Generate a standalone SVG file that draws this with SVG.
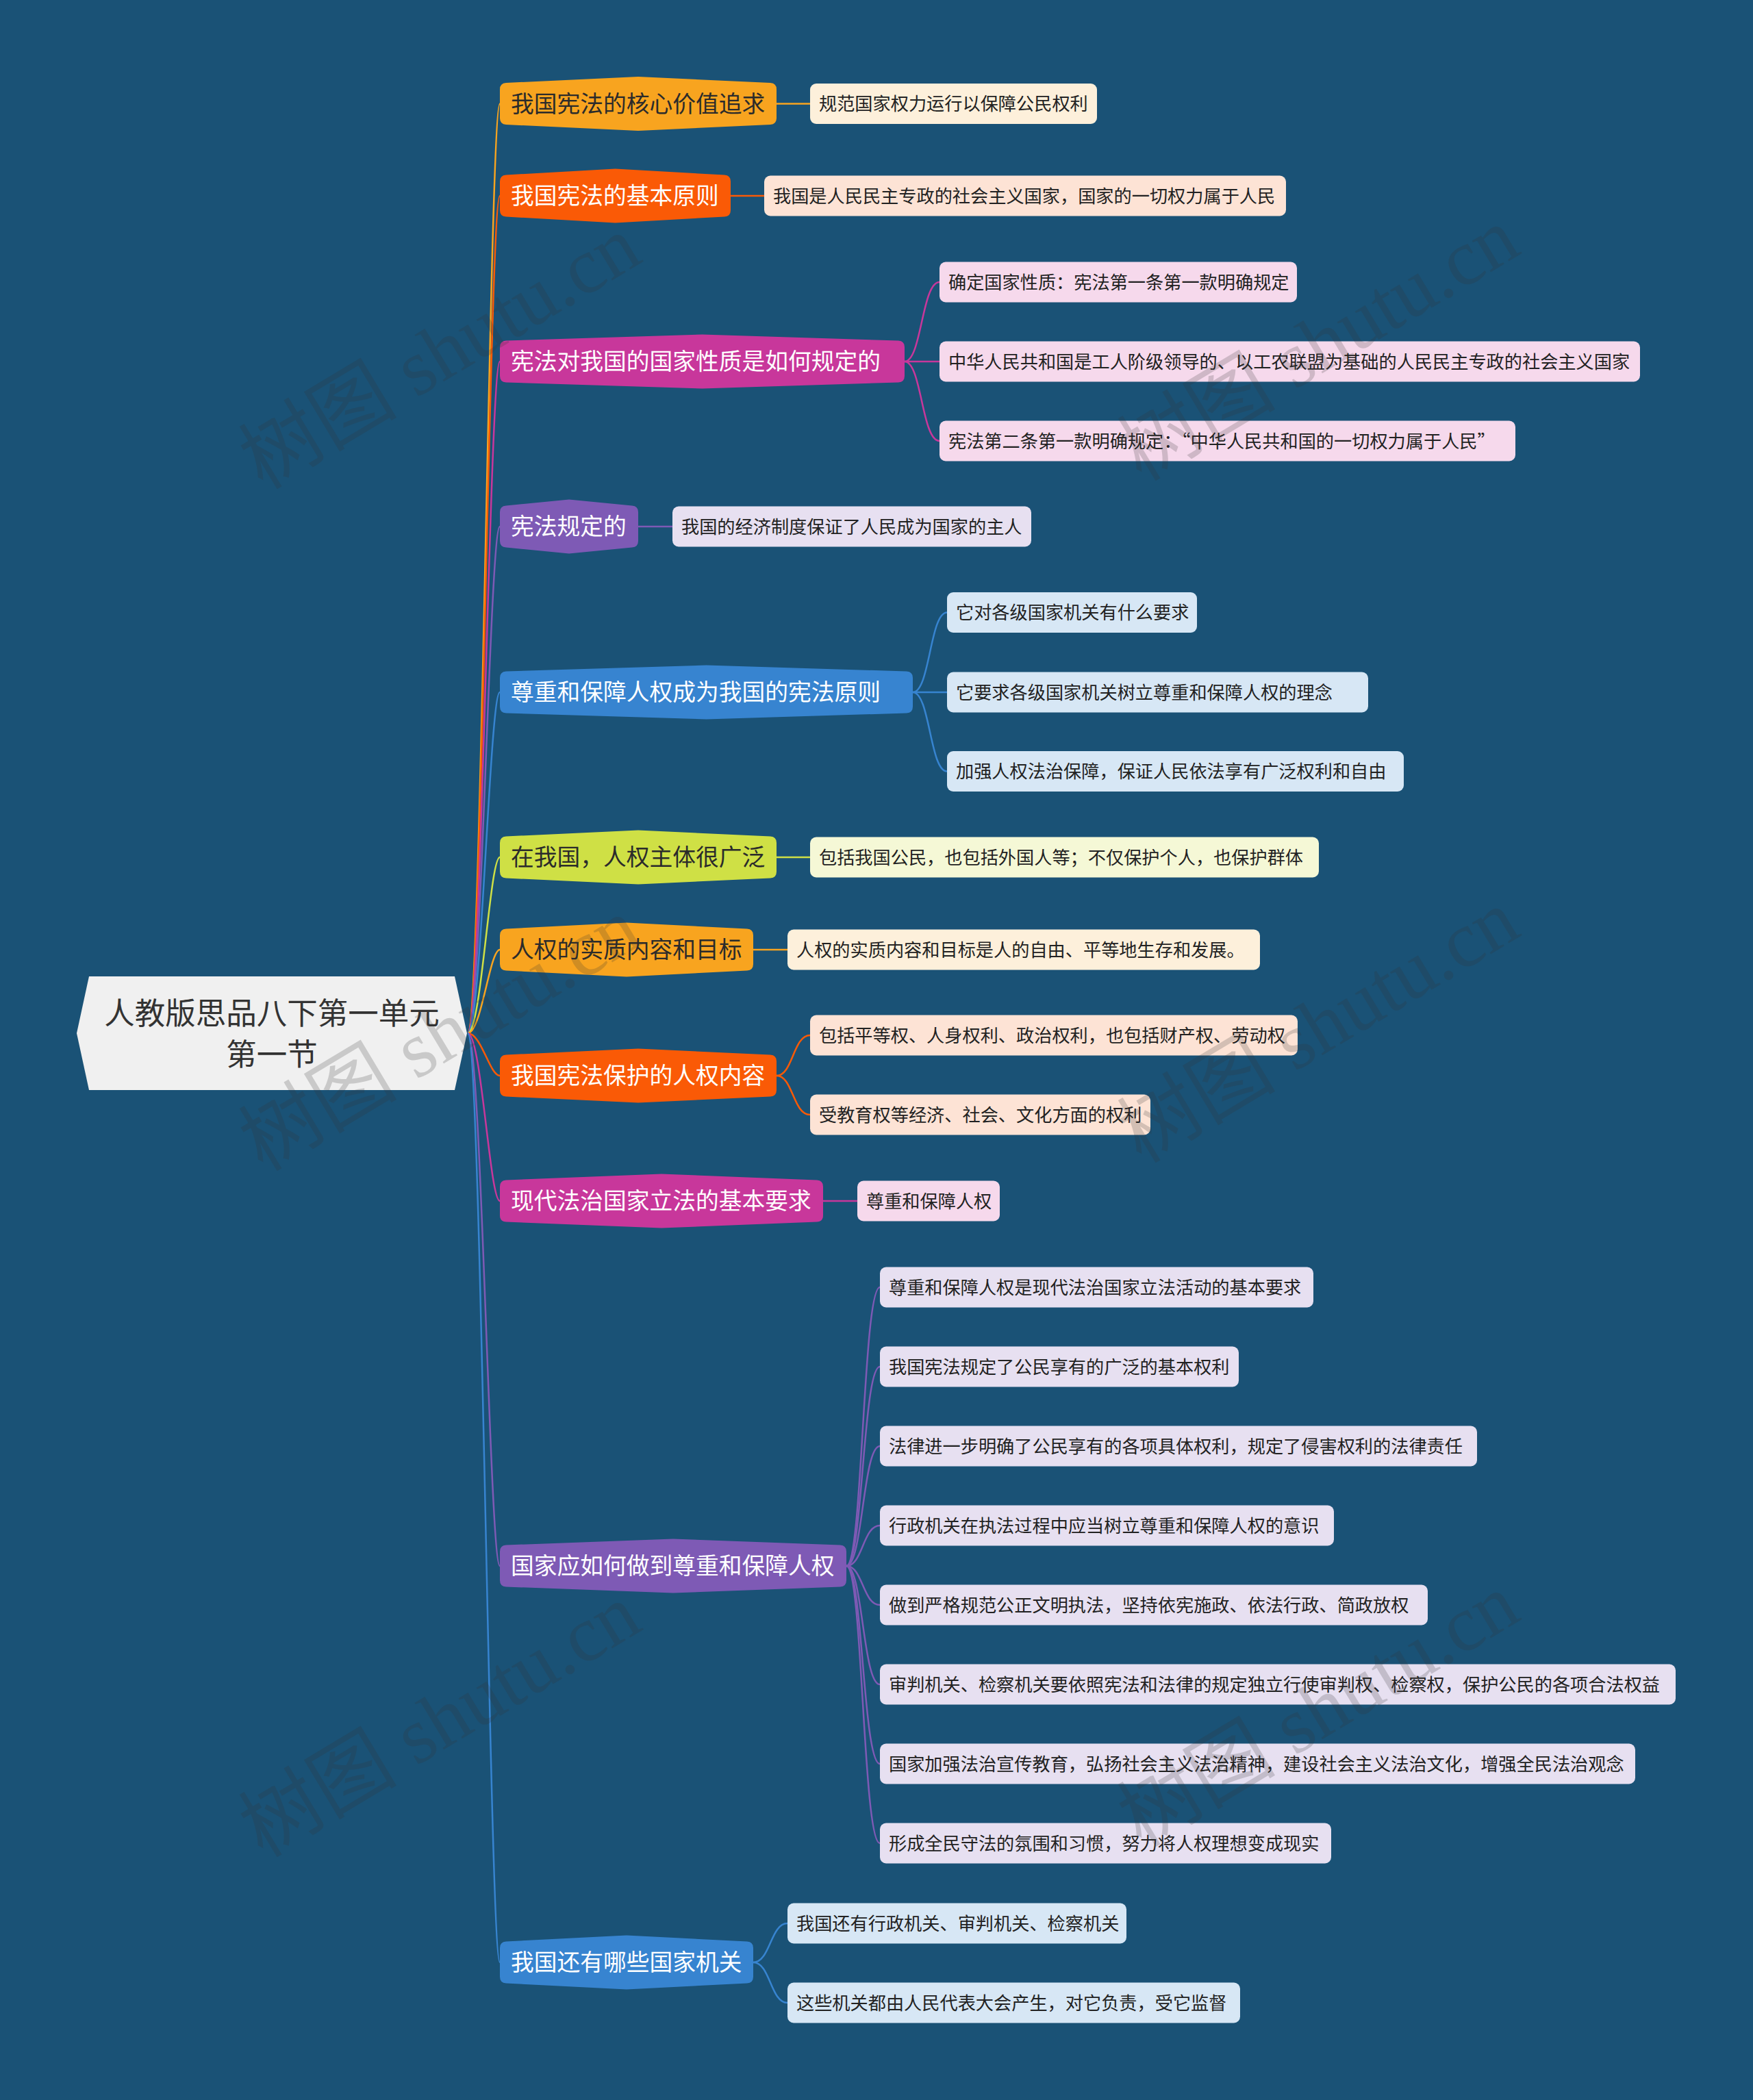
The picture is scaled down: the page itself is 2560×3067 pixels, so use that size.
<svg xmlns="http://www.w3.org/2000/svg" width="2560" height="3067" viewBox="0 0 2560 3067">
<style>
.bg{fill:#1a5276}
.t{font-family:"Noto Sans CJK SC","Noto Sans",sans-serif}
.mt{font-size:33.75px}
.ct{font-size:26.2px;fill:#222}
.light{fill:#ffffff}
.dark{fill:#2b2b2b}
.cn{fill:none;stroke-width:2.5}
.wm{font-family:"Liberation Serif","Noto Sans CJK SC",serif;font-size:116px;fill:#333;opacity:0.2}
.c1{stroke:#f8a41f}.c2{stroke:#fa5a06}.c3{stroke:#c8379b}.c4{stroke:#7e5ab5}.c5{stroke:#3784d0}.c6{stroke:#cfe045}
</style>
<rect class="bg" x="0" y="0" width="2560" height="3067"/>

<g id="connectors">
  <path class="cn c1" d="M683,1509 C703,1509 715,151.5 730,151.5"/>
  <path class="cn c2" d="M683,1509 C703,1509 715,286 730,286"/>
  <path class="cn c3" d="M683,1509 C703,1509 715,528 730,528"/>
  <path class="cn c4" d="M683,1509 C703,1509 715,769 730,769"/>
  <path class="cn c5" d="M683,1509 C703,1509 715,1011 730,1011"/>
  <path class="cn c6" d="M683,1509 C703,1509 715,1252 730,1252"/>
  <path class="cn c1" d="M683,1509 C703,1509 715,1387 730,1387"/>
  <path class="cn c2" d="M683,1509 C703,1509 715,1571 730,1571"/>
  <path class="cn c3" d="M683,1509 C703,1509 715,1754 730,1754"/>
  <path class="cn c4" d="M683,1509 C703,1509 715,2287 730,2287"/>
  <path class="cn c5" d="M683,1509 C703,1509 715,2866 730,2866"/>
  <path class="cn c1" d="M1134,151.5 L1183,151.5"/>
  <path class="cn c2" d="M1067,286 L1116,286"/>
  <path class="cn c3" d="M1321,528 C1346,528 1346,412 1372,412"/>
  <path class="cn c3" d="M1321,528 L1372,528"/>
  <path class="cn c3" d="M1321,528 C1346,528 1346,644 1372,644"/>
  <path class="cn c4" d="M932,769 L982,769"/>
  <path class="cn c5" d="M1333,1011 C1358,1011 1358,894.5 1383,894.5"/>
  <path class="cn c5" d="M1333,1011 L1383,1011"/>
  <path class="cn c5" d="M1333,1011 C1358,1011 1358,1126.5 1383,1126.5"/>
  <path class="cn c6" d="M1134,1252 L1183,1252"/>
  <path class="cn c1" d="M1100,1387 L1150,1387"/>
  <path class="cn c2" d="M1134,1571 C1158,1571 1158,1512 1183,1512"/>
  <path class="cn c2" d="M1134,1571 C1158,1571 1158,1628 1183,1628"/>
  <path class="cn c3" d="M1202,1754 L1252,1754"/>
  <path class="cn c4" d="M1236,2287 C1260,2287 1260,1880 1285,1880"/>
  <path class="cn c4" d="M1236,2287 C1260,2287 1260,1996 1285,1996"/>
  <path class="cn c4" d="M1236,2287 C1260,2287 1260,2112 1285,2112"/>
  <path class="cn c4" d="M1236,2287 C1260,2287 1260,2228 1285,2228"/>
  <path class="cn c4" d="M1236,2287 C1260,2287 1260,2344 1285,2344"/>
  <path class="cn c4" d="M1236,2287 C1260,2287 1260,2460 1285,2460"/>
  <path class="cn c4" d="M1236,2287 C1260,2287 1260,2576 1285,2576"/>
  <path class="cn c4" d="M1236,2287 C1260,2287 1260,2692 1285,2692"/>
  <path class="cn c5" d="M1100,2866 C1125,2866 1125,2809 1150,2809"/>
  <path class="cn c5" d="M1100,2866 C1125,2866 1125,2925 1150,2925"/>
</g>

<g id="root">
  <polygon points="130,1426 664,1426 682,1509 664,1592 130,1592 112,1509" fill="#f0f0f0"/>
  <text class="t" x="397" y="1496" font-size="44.5" fill="#333" text-anchor="middle">人教版思品八下第一单元</text>
  <text class="t" x="397" y="1556" font-size="44.5" fill="#333" text-anchor="middle">第一节</text>
</g>

<g id="n1" transform="translate(730,151.5)">
  <path d="M0,-21 Q0,-30 9,-30.5 L202,-39.5 L395,-30.5 Q404,-30 404,-21 L404,21 Q404,30 395,30.5 L202,39.5 L9,30.5 Q0,30 0,21 Z" fill="#f8a41f"/>
  <text class="t mt dark" x="16" y="12">我国宪法的核心价值追求</text>
</g>
<g id="n2" transform="translate(730,286)">
  <path d="M0,-21 Q0,-30 9,-30.5 L168.5,-39.5 L328,-30.5 Q337,-30 337,-21 L337,21 Q337,30 328,30.5 L168.5,39.5 L9,30.5 Q0,30 0,21 Z" fill="#fa5a06"/>
  <text class="t mt light" x="16" y="12">我国宪法的基本原则</text>
</g>
<g id="n3" transform="translate(730,528)">
  <path d="M0,-21 Q0,-30 9,-30.5 L295.5,-39.5 L582,-30.5 Q591,-30 591,-21 L591,21 Q591,30 582,30.5 L295.5,39.5 L9,30.5 Q0,30 0,21 Z" fill="#c8379b"/>
  <text class="t mt light" x="16" y="12">宪法对我国的国家性质是如何规定的</text>
</g>
<g id="n4" transform="translate(730,769)">
  <path d="M0,-21 Q0,-30 9,-30.5 L101,-39.5 L193,-30.5 Q202,-30 202,-21 L202,21 Q202,30 193,30.5 L101,39.5 L9,30.5 Q0,30 0,21 Z" fill="#7e5ab5"/>
  <text class="t mt light" x="16" y="12">宪法规定的</text>
</g>
<g id="n5" transform="translate(730,1011)">
  <path d="M0,-21 Q0,-30 9,-30.5 L301.5,-39.5 L594,-30.5 Q603,-30 603,-21 L603,21 Q603,30 594,30.5 L301.5,39.5 L9,30.5 Q0,30 0,21 Z" fill="#3784d0"/>
  <text class="t mt light" x="16" y="12">尊重和保障人权成为我国的宪法原则</text>
</g>
<g id="n6" transform="translate(730,1252)">
  <path d="M0,-21 Q0,-30 9,-30.5 L202,-39.5 L395,-30.5 Q404,-30 404,-21 L404,21 Q404,30 395,30.5 L202,39.5 L9,30.5 Q0,30 0,21 Z" fill="#cfe045"/>
  <text class="t mt dark" x="16" y="12">在我国，人权主体很广泛</text>
</g>
<g id="n7" transform="translate(730,1387)">
  <path d="M0,-21 Q0,-30 9,-30.5 L185,-39.5 L361,-30.5 Q370,-30 370,-21 L370,21 Q370,30 361,30.5 L185,39.5 L9,30.5 Q0,30 0,21 Z" fill="#f8a41f"/>
  <text class="t mt dark" x="16" y="12">人权的实质内容和目标</text>
</g>
<g id="n8" transform="translate(730,1571)">
  <path d="M0,-21 Q0,-30 9,-30.5 L202,-39.5 L395,-30.5 Q404,-30 404,-21 L404,21 Q404,30 395,30.5 L202,39.5 L9,30.5 Q0,30 0,21 Z" fill="#fa5a06"/>
  <text class="t mt light" x="16" y="12">我国宪法保护的人权内容</text>
</g>
<g id="n9" transform="translate(730,1754)">
  <path d="M0,-21 Q0,-30 9,-30.5 L236,-39.5 L463,-30.5 Q472,-30 472,-21 L472,21 Q472,30 463,30.5 L236,39.5 L9,30.5 Q0,30 0,21 Z" fill="#c8379b"/>
  <text class="t mt light" x="16" y="12">现代法治国家立法的基本要求</text>
</g>
<g id="n10" transform="translate(730,2287)">
  <path d="M0,-21 Q0,-30 9,-30.5 L253,-39.5 L497,-30.5 Q506,-30 506,-21 L506,21 Q506,30 497,30.5 L253,39.5 L9,30.5 Q0,30 0,21 Z" fill="#7e5ab5"/>
  <text class="t mt light" x="16" y="12">国家应如何做到尊重和保障人权</text>
</g>
<g id="n11" transform="translate(730,2866)">
  <path d="M0,-21 Q0,-30 9,-30.5 L185,-39.5 L361,-30.5 Q370,-30 370,-21 L370,21 Q370,30 361,30.5 L185,39.5 L9,30.5 Q0,30 0,21 Z" fill="#3784d0"/>
  <text class="t mt light" x="16" y="12">我国还有哪些国家机关</text>
</g>

<g id="n1c1"><rect x="1183" y="122" width="419" height="59" rx="9" fill="#fdf0db"/><text class="t ct" x="1196" y="161">规范国家权力运行以保障公民权利</text></g>
<g id="n2c1"><rect x="1116" y="256.5" width="762" height="59" rx="9" fill="#fde3d5"/><text class="t ct" x="1129" y="295.5">我国是人民民主专政的社会主义国家，国家的一切权力属于人民</text></g>
<g id="n3c1"><rect x="1372" y="382.5" width="522" height="59" rx="9" fill="#f6d9ec"/><text class="t ct" x="1385" y="421.5">确定国家性质：宪法第一条第一款明确规定</text></g>
<g id="n3c2"><rect x="1372" y="498.5" width="1023" height="59" rx="9" fill="#f6d9ec"/><text class="t ct" x="1385" y="537.5">中华人民共和国是工人阶级领导的、以工农联盟为基础的人民民主专政的社会主义国家</text></g>
<g id="n3c3"><rect x="1372" y="614.5" width="841" height="59" rx="9" fill="#f6d9ec"/><text class="t ct" x="1385" y="653.5">宪法第二条第一款明确规定：“中华人民共和国的一切权力属于人民”</text></g>
<g id="n4c1"><rect x="982" y="739.5" width="524" height="59" rx="9" fill="#e7e0f1"/><text class="t ct" x="995" y="778.5">我国的经济制度保证了人民成为国家的主人</text></g>
<g id="n5c1"><rect x="1383" y="865" width="365" height="59" rx="9" fill="#d7e7f5"/><text class="t ct" x="1396" y="904">它对各级国家机关有什么要求</text></g>
<g id="n5c2"><rect x="1383" y="981.5" width="615" height="59" rx="9" fill="#d7e7f5"/><text class="t ct" x="1396" y="1020.5">它要求各级国家机关树立尊重和保障人权的理念</text></g>
<g id="n5c3"><rect x="1383" y="1097" width="667" height="59" rx="9" fill="#d7e7f5"/><text class="t ct" x="1396" y="1136">加强人权法治保障，保证人民依法享有广泛权利和自由</text></g>
<g id="n6c1"><rect x="1183" y="1222.5" width="743" height="59" rx="9" fill="#f5f8d6"/><text class="t ct" x="1196" y="1261.5">包括我国公民，也包括外国人等；不仅保护个人，也保护群体</text></g>
<g id="n7c1"><rect x="1150" y="1357.5" width="690" height="59" rx="9" fill="#fdf0db"/><text class="t ct" x="1163" y="1396.5">人权的实质内容和目标是人的自由、平等地生存和发展。</text></g>
<g id="n8c1"><rect x="1183" y="1482.5" width="712" height="59" rx="9" fill="#fde3d5"/><text class="t ct" x="1196" y="1521.5">包括平等权、人身权利、政治权利，也包括财产权、劳动权</text></g>
<g id="n8c2"><rect x="1183" y="1598.5" width="497" height="59" rx="9" fill="#fde3d5"/><text class="t ct" x="1196" y="1637.5">受教育权等经济、社会、文化方面的权利</text></g>
<g id="n9c1"><rect x="1252" y="1724.5" width="208" height="59" rx="9" fill="#f6d9ec"/><text class="t ct" x="1265" y="1763.5">尊重和保障人权</text></g>
<g id="n10c1"><rect x="1285" y="1850.5" width="633" height="59" rx="9" fill="#e7e0f1"/><text class="t ct" x="1298" y="1889.5">尊重和保障人权是现代法治国家立法活动的基本要求</text></g>
<g id="n10c2"><rect x="1285" y="1966.5" width="524" height="59" rx="9" fill="#e7e0f1"/><text class="t ct" x="1298" y="2005.5">我国宪法规定了公民享有的广泛的基本权利</text></g>
<g id="n10c3"><rect x="1285" y="2082.5" width="872" height="59" rx="9" fill="#e7e0f1"/><text class="t ct" x="1298" y="2121.5">法律进一步明确了公民享有的各项具体权利，规定了侵害权利的法律责任</text></g>
<g id="n10c4"><rect x="1285" y="2198.5" width="663" height="59" rx="9" fill="#e7e0f1"/><text class="t ct" x="1298" y="2237.5">行政机关在执法过程中应当树立尊重和保障人权的意识</text></g>
<g id="n10c5"><rect x="1285" y="2314.5" width="800" height="59" rx="9" fill="#e7e0f1"/><text class="t ct" x="1298" y="2353.5">做到严格规范公正文明执法，坚持依宪施政、依法行政、简政放权</text></g>
<g id="n10c6"><rect x="1285" y="2430.5" width="1162" height="59" rx="9" fill="#e7e0f1"/><text class="t ct" x="1298" y="2469.5">审判机关、检察机关要依照宪法和法律的规定独立行使审判权、检察权，保护公民的各项合法权益</text></g>
<g id="n10c7"><rect x="1285" y="2546.5" width="1103" height="59" rx="9" fill="#e7e0f1"/><text class="t ct" x="1298" y="2585.5">国家加强法治宣传教育，弘扬社会主义法治精神，建设社会主义法治文化，增强全民法治观念</text></g>
<g id="n10c8"><rect x="1285" y="2662.5" width="659" height="59" rx="9" fill="#e7e0f1"/><text class="t ct" x="1298" y="2701.5">形成全民守法的氛围和习惯，努力将人权理想变成现实</text></g>
<g id="n11c1"><rect x="1150" y="2779.5" width="495" height="59" rx="9" fill="#d7e7f5"/><text class="t ct" x="1163" y="2818.5">我国还有行政机关、审判机关、检察机关</text></g>
<g id="n11c2"><rect x="1150" y="2895.5" width="661" height="59" rx="9" fill="#d7e7f5"/><text class="t ct" x="1163" y="2934.5">这些机关都由人民代表大会产生，对它负责，受它监督</text></g>

<g id="watermarks">
  <text class="wm" text-anchor="middle" transform="translate(643,516) rotate(-31)" y="38">树图 shutu.cn</text>
  <text class="wm" text-anchor="middle" transform="translate(1926,504) rotate(-31)" y="38">树图 shutu.cn</text>
  <text class="wm" text-anchor="middle" transform="translate(643,1512) rotate(-31)" y="38">树图 shutu.cn</text>
  <text class="wm" text-anchor="middle" transform="translate(1926,1500) rotate(-31)" y="38">树图 shutu.cn</text>
  <text class="wm" text-anchor="middle" transform="translate(643,2514) rotate(-31)" y="38">树图 shutu.cn</text>
  <text class="wm" text-anchor="middle" transform="translate(1926,2499) rotate(-31)" y="38">树图 shutu.cn</text>
</g>
</svg>
